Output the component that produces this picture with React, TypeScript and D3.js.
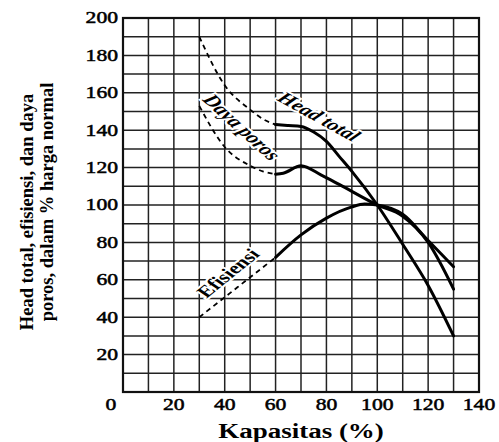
import React from 'react'
import * as d3 from 'd3'

// x = kapasitas (%), y = % of normal value
const headX = [30, 40, 50, 55, 60, 65, 70, 75, 80, 85, 90, 100, 110, 120, 130]
const headY = [190, 164, 151, 146, 143, 142.5, 142, 139, 134, 126, 118, 100, 79, 57, 30]
const headSolidFrom = 60

const dayaX = [30, 40, 50, 55, 60, 63, 70, 78, 85, 100, 110, 120, 130]
const dayaY = [153, 131, 121, 118, 116.5, 117, 121, 116, 111, 100, 94, 80, 55]
const dayaSolidFrom = 60

const efisX = [30, 45, 60, 70, 80, 90, 95, 100, 110, 120, 130]
const efisY = [40, 56, 72, 84, 93, 99, 100.5, 100, 95, 81, 67]
const efisSolidFrom = 60

const xTicks = [0, 20, 40, 60, 80, 100, 120, 140]
const yTicks = [20, 40, 60, 80, 100, 120, 140, 160, 180, 200]
const gridX = d3.range(10, 140, 10)
const gridY = d3.range(10, 200, 10)

const W = 499, H = 442
const margin = { left: 123, top: 18, right: 20, bottom: 50 }

const font = "'Liberation Serif', 'DejaVu Serif', serif"
// the scanned figure is stretched sideways, text follows it
const SX = 1.35

const App = () => {
  const x = d3.scaleLinear().domain([0, 140]).range([margin.left, W - margin.right])
  const y = d3.scaleLinear().domain([0, 200]).range([H - margin.bottom, margin.top])

  const line = d3.line<[number, number]>()
    .x(d => x(d[0]))
    .y(d => y(d[1]))
    .curve(d3.curveMonotoneX)

  const split = (xs: number[], ys: number[], from: number) => {
    const pts: [number, number][] = xs.map((v, i) => [v, ys[i]])
    return {
      dash: pts.filter(p => p[0] <= from),
      solid: pts.filter(p => p[0] >= from)
    }
  }

  const series = [
    split(headX, headY, headSolidFrom),
    split(dayaX, dayaY, dayaSolidFrom),
    split(efisX, efisY, efisSolidFrom)
  ]

  const labels = [
    { text: 'Head total', at: [76.5, 146.5], angle: 36.8, style: 'italic', size: 16.5 },
    { text: 'Daya poros', at: [46, 141], angle: 50.5, style: 'italic', size: 17 },
    { text: 'Efisiensi', at: [42, 63], angle: -47.5, style: 'normal', size: 16.5 }
  ]

  return (
    <svg width={W} height={H} style={{ position: 'absolute', left: 0, top: 0, background: '#fff', fontFamily: font }}>
      {/* grid */}
      <g stroke='#222' strokeWidth={1.5}>
        {gridX.map(v => (
          <line key={'gx' + v} x1={x(v)} x2={x(v)} y1={y(0)} y2={y(200)} />
        ))}
        {gridY.map(v => (
          <line key={'gy' + v} x1={x(0)} x2={x(140)} y1={y(v)} y2={y(v)} />
        ))}
      </g>

      {/* frame */}
      <rect x={x(0)} y={y(200)} width={x(140) - x(0)} height={y(0) - y(200)}
        fill='none' stroke='#111' strokeWidth={2.2} />

      {/* curves */}
      <g fill='none' stroke='#000'>
        {series.map((s, i) => (
          <g key={i}>
            <path d={line(s.dash) || ''} strokeWidth={1.8} strokeDasharray='5,4' />
            <path d={line(s.solid) || ''} strokeWidth={3} strokeLinecap='round' />
          </g>
        ))}
      </g>

      {/* curve labels */}
      {labels.map(l => (
        <text key={l.text}
          transform={`translate(${x(l.at[0])}, ${y(l.at[1])}) scale(${SX}, 1) rotate(${l.angle})`}
          textAnchor='middle' dominantBaseline='middle'
          style={{ fontFamily: font, fontSize: l.size, fontStyle: l.style, fontWeight: 'bold' }}
          fill='#000' stroke='#fff' strokeWidth={3.5} paintOrder='stroke'>
          {l.text}
        </text>
      ))}

      {/* y ticks */}
      {yTicks.map(v => (
        <text key={'yt' + v} transform={`translate(${x(0) - 5}, ${y(v)}) scale(${SX}, 1)`}
          textAnchor='end' dominantBaseline='central'
          style={{ fontFamily: font, fontSize: 16 }} fill='#000' stroke='#000' strokeWidth={0.5}>{v}</text>
      ))}

      {/* x ticks */}
      {xTicks.map(v => (
        <text key={'xt' + v} transform={`translate(${v === 0 ? x(v) - 12 : x(v)}, ${y(0) + 13}) scale(${SX}, 1)`}
          textAnchor='middle' dominantBaseline='central'
          style={{ fontFamily: font, fontSize: 16 }} fill='#000' stroke='#000' strokeWidth={0.5}>{v}</text>
      ))}

      {/* axis titles */}
      <text transform={`translate(301, 431) scale(${SX}, 1)`} textAnchor='middle' dominantBaseline='central'
        style={{ fontFamily: font, fontSize: 20, fontWeight: 'bold' }}>Kapasitas (%)</text>
      <text transform='translate(27, 212) rotate(-90)' textAnchor='middle' dominantBaseline='central'
        style={{ fontFamily: font, fontSize: 18.5, fontWeight: 'bold' }}>Head total, efisiensi, dan daya</text>
      <text transform='translate(47, 202) rotate(-90)' textAnchor='middle' dominantBaseline='central'
        style={{ fontFamily: font, fontSize: 18.5, fontWeight: 'bold' }}>poros, dalam % harga normal</text>
    </svg>
  )
}

export default App
